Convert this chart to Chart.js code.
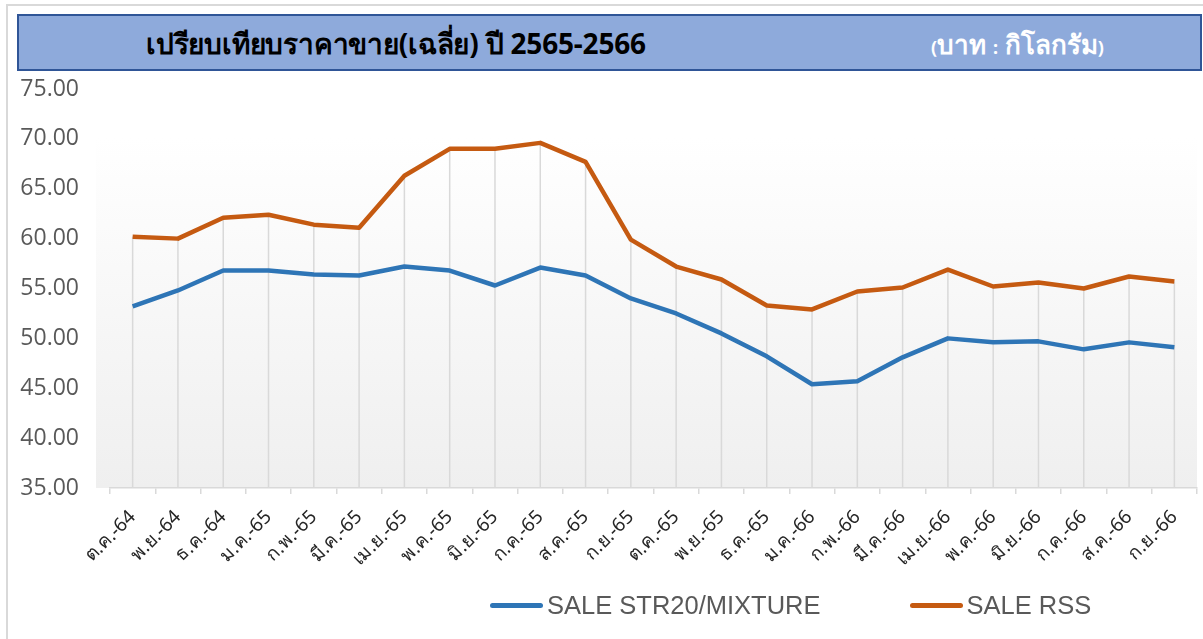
<!DOCTYPE html>
<html>
<head>
<meta charset="utf-8">
<script src="https://cdn.jsdelivr.net/npm/chart.js@4.4.0/dist/chart.umd.min.js"></script>
<style>
    html, body { margin: 0; padding: 0; background: #fff; }
    body { width: 1203px; height: 639px; position: relative; overflow: hidden; font-family: "Noto Sans", sans-serif; }
    #frame { position: absolute; left: 6px; top: 4px; width: 1210px; height: 650px; border-left: 2px solid #d9d9d9; border-top: 2px solid #d9d9d9; }
    #titleBar { position: absolute; left: 17px; top: 14px; width: 1181px; height: 53px; background: #8eaadb; border: 2px solid #2f5597; }
    #title { position: absolute; left: 127px; top: 6px; font-size: 28px; font-weight: bold; color: #000; white-space: nowrap; letter-spacing: -0.2px; }
    #unit { position: absolute; left: 912px; top: 8px; font-size: 26px; font-weight: bold; color: #fff; white-space: nowrap; }
    #unit small { font-size: 18px; }
    #chart { position: absolute; left: 0; top: 0; }
    #legend { position: absolute; left: 490px; top: 591px; display: flex; align-items: center; font-family: "Liberation Sans", sans-serif; font-size: 25.5px; color: #595959; }
    .item { display: flex; align-items: center; margin-right: 89px; }
    .swatch { width: 53px; height: 5px; border-radius: 3px; margin-right: 4px; }
</style>
</head>
<body>
<div id="frame"></div>
<div id="titleBar">
    <div id="title">เปรียบเทียบราคาขาย(เฉลี่ย) ปี 2565-2566</div>
    <div id="unit"><small>(</small>บาท <small>:</small> กิโลกรัม<small>)</small></div>
</div>
<canvas id="chart" width="1203" height="639"></canvas>
<div id="legend"></div>
<script>
// Data
const months = ['ต.ค.-64', 'พ.ย.-64', 'ธ.ค.-64', 'ม.ค.-65', 'ก.พ.-65', 'มี.ค.-65', 'เม.ย.-65', 'พ.ค.-65',
    'มิ.ย.-65', 'ก.ค.-65', 'ส.ค.-65', 'ก.ย.-65', 'ต.ค.-65', 'พ.ย.-65', 'ธ.ค.-65', 'ม.ค.-66',
    'ก.พ.-66', 'มี.ค.-66', 'เม.ย.-66', 'พ.ค.-66', 'มิ.ย.-66', 'ก.ค.-66', 'ส.ค.-66', 'ก.ย.-66'];
const str20 = [53.2, 54.8, 56.8, 56.8, 56.4, 56.3, 57.2, 56.8, 55.3, 57.1, 56.3, 54.0,
    52.5, 50.5, 48.2, 45.4, 45.7, 48.1, 50.0, 49.6, 49.7, 48.9, 49.6, 49.1];
const rss = [60.2, 60.0, 62.1, 62.4, 61.4, 61.1, 66.3, 69.0, 69.0, 69.6, 67.7, 59.9,
    57.2, 55.9, 53.3, 52.9, 54.7, 55.1, 56.9, 55.2, 55.6, 55.0, 56.2, 55.7];
const yTicks = [35, 40, 45, 50, 55, 60, 65, 70, 75];

const series = [
    { label: 'SALE STR20/MIXTURE', data: str20, color: '#2e75b6' },
    { label: 'SALE RSS', data: rss, color: '#c55a11' },
];

const textGrey = '#595959';
const gridGrey = '#d9d9d9';

// gradient fill behind the plot
const plotBackground = {
    id: 'plotBackground',
    beforeDraw(chart) {
        const { ctx, chartArea: a } = chart;
        const g = ctx.createLinearGradient(0, a.top, 0, a.bottom);
        g.addColorStop(0, '#ffffff');
        g.addColorStop(0.12, '#ffffff');
        g.addColorStop(1, '#efefef');
        ctx.save();
        ctx.fillStyle = g;
        ctx.fillRect(a.left - 14, a.top, a.right - a.left + 14, a.bottom - a.top);
        ctx.restore();
    }
};

// drop lines from the axis up to the highest series
const dropLines = {
    id: 'dropLines',
    beforeDatasetsDraw(chart) {
        const { ctx, scales: { x, y } } = chart;
        ctx.save();
        ctx.strokeStyle = gridGrey;
        ctx.lineWidth = 1.5;
        months.forEach((m, i) => {
            const top = Math.max(...series.map(s => s.data[i]));
            const px = x.getPixelForValue(i);
            ctx.beginPath();
            ctx.moveTo(px, y.getPixelForValue(yTicks[0]));
            ctx.lineTo(px, y.getPixelForValue(top));
            ctx.stroke();
        });
        ctx.restore();
    }
};

new Chart(document.getElementById('chart'), {
    type: 'line',
    data: {
        labels: months,
        datasets: series.map(s => ({
            label: s.label,
            data: s.data,
            borderColor: s.color,
            backgroundColor: s.color,
            borderWidth: 4.5,
            pointRadius: 0,
            tension: 0,
            borderJoinStyle: 'round',
        }))
    },
    options: {
        responsive: false,
        animation: false,
        layout: { padding: { top: 89, right: 6, left: 0, bottom: 0 } },
        plugins: { legend: { display: false }, tooltip: { enabled: false } },
        scales: {
            x: {
                offset: true,
                grid: { display: true, drawOnChartArea: false, drawTicks: true, tickLength: 6, offset: true, color: gridGrey, lineWidth: 1.5 },
                border: { display: true, color: gridGrey, width: 1.5 },
                ticks: { autoSkip: false, maxRotation: 45, minRotation: 45, padding: 12, color: '#262626',
                    font: { family: '"Noto Sans", sans-serif', size: 19 } },
                afterFit: s => { s.height = 151; }
            },
            y: {
                min: yTicks[0],
                max: yTicks[yTicks.length - 1],
                grid: { display: false, drawTicks: false },
                border: { display: false },
                afterBuildTicks: s => { s.ticks = yTicks.map(v => ({ value: v })); },
                ticks: { padding: 31, color: textGrey, callback: v => v.toFixed(2),
                    font: { family: '"Open Sans", sans-serif', size: 23 } },
                afterFit: s => { s.width = 110; }
            }
        }
    },
    plugins: [plotBackground, dropLines]
});

// legend
const legend = document.getElementById('legend');
series.forEach(s => {
    const item = document.createElement('div');
    item.className = 'item';
    item.innerHTML = `<span class="swatch" style="background:${s.color}"></span><span>${s.label}</span>`;
    legend.appendChild(item);
});
</script>
</body>
</html>
